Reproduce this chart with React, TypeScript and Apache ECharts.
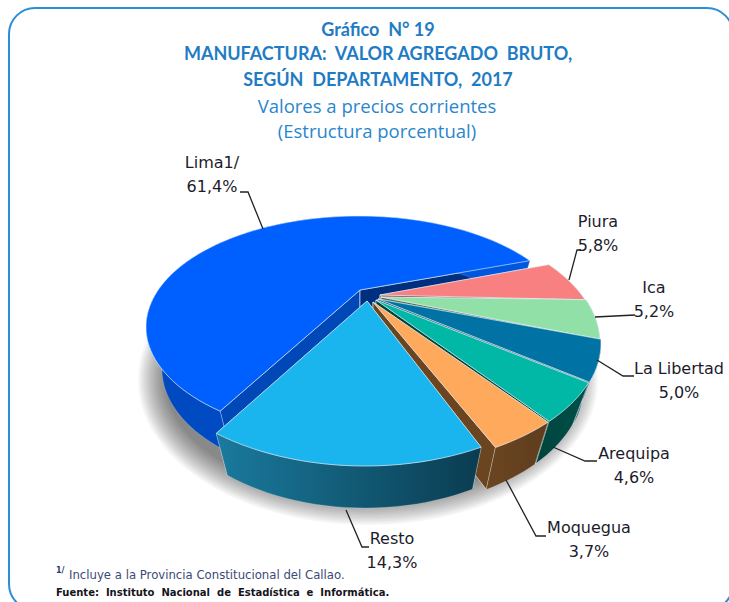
import React, { useEffect, useRef } from "react";
import * as echarts from "echarts";

const categories = ["Lima1/", "Piura", "Ica", "La Libertad", "Arequipa", "Moquegua", "Resto"];
const values = [61.4, 5.8, 5.2, 5.0, 4.6, 3.7, 14.3];
const titleLines = [
  "Gráfico  N° 19",
  "MANUFACTURA:  VALOR AGREGADO  BRUTO,",
  "SEGÚN  DEPARTAMENTO,  2017",
];
const subtitleLines = ["Valores a precios corrientes", "(Estructura porcentual)"];
const footnote = "Incluye a la Provincia Constitucional del Callao.";
const source = "Fuente:  Instituto  Nacional  de  Estadística  e  Informática.";

// layout (not data)
const START_ANGLE = 209.5; // where the first slice starts, clockwise from the far side
const PERSPECTIVE = 0.33;
const DEPTH = 42;
const BASE_SCALE = 0.925;
const RIGHT = { cx: 373, cy: 343, rx: 228, ry: 125, rot: -2.5 };
const geometry = [
  { cx: 359, cy: 327, rx: 213, ry: 111, ax: 360, ay: 290, rot: 0 },
  { ...RIGHT, cx: 371, ax: 380, ay: 295 },
  { ...RIGHT, cx: 372, ax: 381, ay: 297 },
  { ...RIGHT, ax: 378, ay: 299 },
  { ...RIGHT, cy: 342, ax: 376, ay: 300, rot: -1.8 },
  { ...RIGHT, cy: 342, ax: 373, ay: 302, rot: -1.4 },
  { cx: 365, cy: 331, rx: 228, ry: 135, ax: 367, ay: 301, rot: 0 },
];
const topColors = ["#0060ff", "#f98080", "#90e0a8", "#0072a3", "#00b8a5", "#ffa95c", "#1ab5ee"];
const wallColors = [
  ["#0048bd", "#0058e0"],
  ["#8a4848", "#8a4848"],
  ["#5a8a65", "#5a8a65"],
  ["#00466a", "#00466a"],
  ["#00443c", "#00504a"],
  ["#6b4520", "#5e3d1e"],
  ["#1a7a9e", "#0a3c50"],
];
const cutColors = [
  ["#0048b8", "#002f80"],
  ["#8a4848", "#7a4040"],
  ["#5a8a65", "#52705a"],
  ["#00466a", "#00466a"],
  ["#00443c", "#00443c"],
  ["#6b4520", "#6b4520"],
  ["#0a3c50", "#0a3c50"],
];
const labelAnchors = [
  [212, 174], [598, 233], [654, 299], [679, 380], [634, 465], [589, 539], [392, 550],
];
const leaders = [
  [[263, 229], [248, 192], [240, 192]],
  [[569, 280], [577, 250], [581, 250]],
  [[595, 317], [635, 315]],
  [[597, 360], [623, 376], [634, 376]],
  [[553, 447], [585, 461], [597, 461]],
  [[506, 480], [536, 536], [546, 536]],
  [[346, 510], [362, 547], [369, 547]],
];
const SHADOW_STEPS = 16;

const TEXT = "#1c1c2c";
const pct = (v: number) => v.toFixed(1).replace(".", ",") + "%";

function rimPoint(g: any, deg: number): number[] {
  const t = ((deg + g.rot) * Math.PI) / 180;
  const x = Math.sin(t);
  const y = Math.cos(t);
  const k = 1 + PERSPECTIVE * y;
  const xp = (x * Math.sqrt(1 - PERSPECTIVE * PERSPECTIVE)) / k;
  const yp = (y + PERSPECTIVE) / k;
  return [g.cx + g.rx * xp, g.cy - g.ry * yp];
}

function renderItem(params: any, api: any) {
  const i = params.dataIndex;
  const total = values.reduce((a, b) => a + b, 0);
  const before = values.slice(0, i).reduce((a, b) => a + b, 0);
  const a0 = START_ANGLE + (before / total) * 360;
  const a1 = a0 + (api.value(0) / total) * 360;
  const g = geometry[i];
  const rim: number[][] = [];
  const N = Math.max(8, Math.ceil((a1 - a0) / 2));
  for (let k = 0; k <= N; k++) rim.push(rimPoint(g, a0 + ((a1 - a0) * k) / N));
  const down = (p: number[]) => [g.cx + (p[0] - g.cx) * BASE_SCALE, p[1] + DEPTH];
  const apex = [g.ax, g.ay];
  const edge = { stroke: "rgba(235,245,250,0.75)", lineWidth: 0.8, lineJoin: "round" };
  const quad = (p: number[], color: string) => ({
    type: "polygon",
    shape: { points: [apex, p, down(p), down(apex)] },
    style: { fill: color, ...edge },
  });
  const wallPts = rim.concat(rim.map(down).reverse());
  const children: any[] = [
    quad(rim[0], cutColors[i][0]),
    quad(rim[N], cutColors[i][1]),
    {
      type: "polygon",
      shape: { points: wallPts },
      style: {
        fill: new echarts.graphic.LinearGradient(0, 0, 1, 0, [
          { offset: 0, color: wallColors[i][0] },
          { offset: 1, color: wallColors[i][1] },
        ]),
        stroke: "rgba(235,245,250,0.35)",
        lineWidth: 0.5,
      },
    },
    {
      type: "polygon",
      shape: { points: [apex, ...rim] },
      style: { fill: topColors[i], ...edge },
    },
  ];
  return { type: "group", children };
}

function textEl(text: string, x: number, y: number, font: string, fill: string, align = "center") {
  return {
    type: "text",
    silent: true,
    z: 20,
    style: { text, x, y, font, fill, align, verticalAlign: "middle" },
  };
}

export default function App() {
  const ref = useRef<HTMLDivElement>(null);
  useEffect(() => {
    const chart = echarts.init(ref.current!, null, { renderer: "svg" });
    const titleFont = "bold 18px Lato, sans-serif";
    const subFont = '18.5px "Open Sans", sans-serif';
    const labelFont = '16px "DejaVu Sans", sans-serif';
    const shadow = Array.from({ length: SHADOW_STEPS }, (_, s) => ({
      type: "ellipse",
      z: 1,
      shape: { cx: 368, cy: 380, rx: 230 - s * 1.8, ry: 145 - s * 1.8 },
      style: { fill: "rgba(0,0,0,0.035)" },
    }));
    const elements: any[] = [
      {
        type: "rect",
        z: 0,
        shape: { x: 9, y: 8, width: 724, height: 602, r: 26 },
        style: { fill: "#ffffff", stroke: "#2a8fd8", lineWidth: 2 },
      },
      ...shadow,
      ...titleLines.map((t, k) => textEl(t, 378, [29, 53, 79][k], titleFont, "#1f7cc4")),
      ...subtitleLines.map((t, k) => textEl(t, 377, [105, 130][k], subFont, "#2a86cc")),
      textEl("1/", 56, 570, 'bold 8px "DejaVu Sans", sans-serif', "#2c3a70", "left"),
      textEl(footnote, 69, 574.5, '11.7px "DejaVu Sans", sans-serif', "#3c4a78", "left"),
      textEl(source, 56, 592, 'bold 10px "DejaVu Sans", sans-serif', "#14141c", "left"),
      ...leaders.map((pts) => ({
        type: "polyline",
        z: 15,
        shape: { points: pts },
        style: { stroke: "#222222", lineWidth: 1.3, fill: "none" },
      })),
      ...categories
        .map((c, k) =>
          textEl(`${c}\n${pct(values[k])}`, labelAnchors[k][0], labelAnchors[k][1], labelFont, TEXT)
        )
        .map((e) => ({ ...e, style: { ...e.style, lineHeight: 24 } })),
    ];
    chart.setOption({
      animation: false,
      backgroundColor: "#ffffff",
      graphic: { elements },
      series: [
        {
          type: "custom",
          coordinateSystem: "none",
          z: 5,
          silent: true,
          data: values.map((v, k) => ({ name: categories[k], value: [v] })),
          renderItem,
        },
      ],
    });
    return () => chart.dispose();
  }, []);
  return <div ref={ref} style={{ position: "absolute", left: 0, top: 0, width: 729, height: 602 }} />;
}
